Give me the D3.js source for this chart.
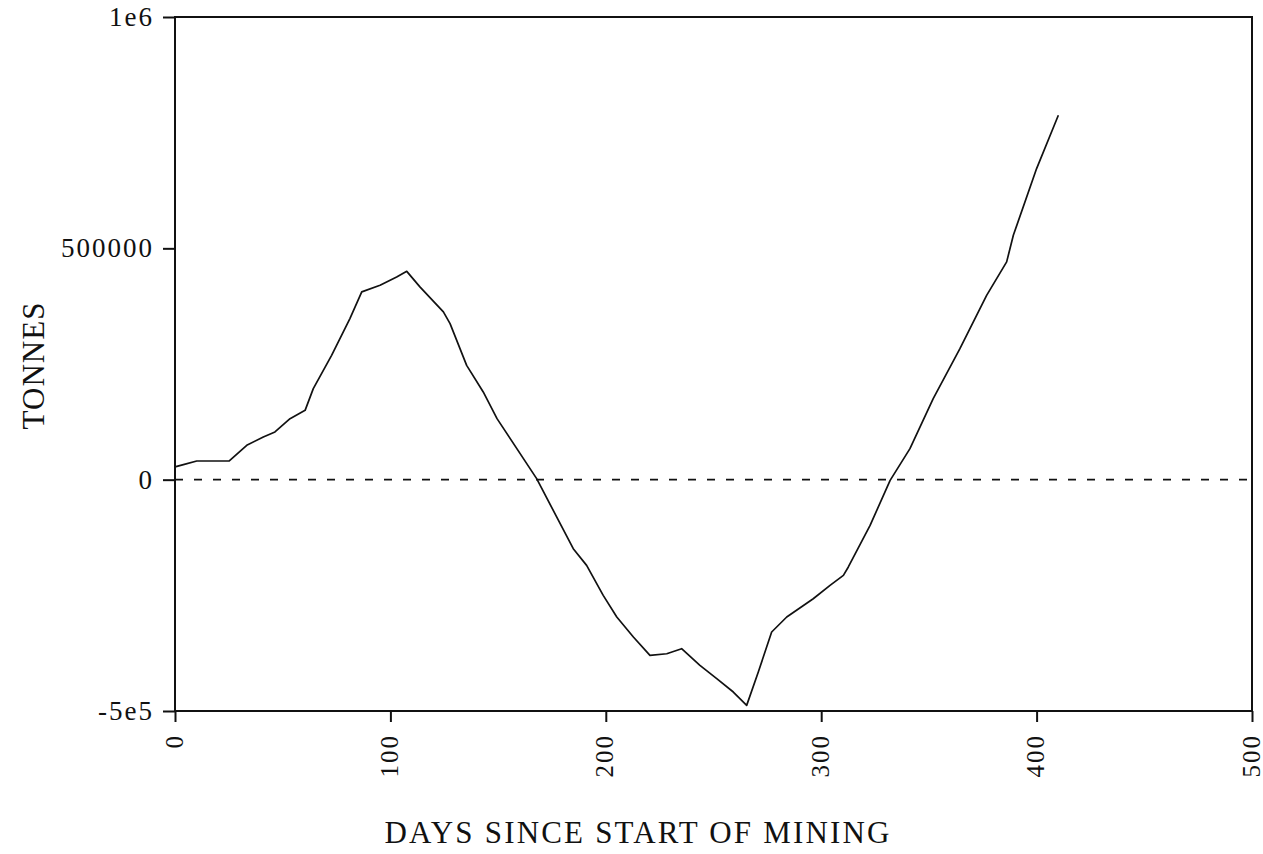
<!DOCTYPE html>
<html>
<head>
<meta charset="utf-8">
<script src="https://cdn.jsdelivr.net/npm/d3@7"></script>
<style>
  body { margin: 0; background: #fff; }
  svg { display: block; }
</style>
</head>
<body>
<script>
let width = 1263;
let height = 854;

let margin = { top: 17, right: 10, bottom: 143, left: 175 };

// days since start of mining, and cumulative tonnes
let days = [0, 3.9, 10.1, 25.2, 33.3, 41.0, 46.4, 53.4, 60.4, 64.2, 72.7, 81.2, 86.7, 95.2,
  102.9, 107.6, 113.7, 124.6, 127.7, 135.4, 143.1, 149.5, 167.9, 184.9, 191.1, 198.8,
  205.1, 212.8, 220.5, 228.3, 235.2, 243.7, 251.5, 259.2, 265.4, 270.8, 277.0, 284.0,
  296.3, 304.1, 310.3, 312.6, 322.7, 332.0, 341.2, 352.0, 364.4, 376.8, 386.1, 389.2,
  400.0, 410.1];
let tonnes = [27500, 32400, 40400, 40400, 74200, 92300, 103100, 131900, 149800, 196800,
  268700, 348100, 405800, 420100, 438200, 450300, 416600, 362600, 337300, 247100,
  189600, 131900, 2200, -149200, -185300, -250100, -296800, -340100, -379900, -376200,
  -365400, -401500, -430200, -459000, -487900, -415700, -329300, -296800, -257300,
  -228500, -206900, -188700, -98800, -1500, 67000, 175100, 283200, 398400, 470700,
  528200, 672400, 787600];

let xTicks = [0, 100, 200, 300, 400, 500];
let yTicks = [-500000, 0, 500000, 1000000];
let yTickLabels = ['-5e5', '0', '500000', '1e6'];

let xTitle = 'DAYS SINCE START OF MINING';
let yTitle = 'TONNES';

let svg = d3.select('body').append('svg')
  .attr('width', width)
  .attr('height', height);

let x = d3.scaleLinear()
  .domain([0, 500])
  .range([margin.left, width - margin.right - 1]);

let y = d3.scaleLinear()
  .domain([-500000, 1000000])
  .range([height - margin.bottom, margin.top]);

let font = '"Liberation Serif", "DejaVu Serif", serif';

// frame
svg.append('rect')
  .attr('x', x(0))
  .attr('y', y(1000000))
  .attr('width', x(500) - x(0))
  .attr('height', y(-500000) - y(1000000))
  .attr('fill', 'none')
  .attr('stroke', '#111')
  .attr('stroke-width', 2);

// axes
let xAxis = svg.append('g')
  .attr('transform', `translate(0,${y(-500000)})`)
  .call(d3.axisBottom(x).tickValues(xTicks).tickSize(11).tickFormat(d3.format('d')));

xAxis.select('.domain').remove();
xAxis.selectAll('line').attr('stroke', '#111').attr('stroke-width', 2);
xAxis.selectAll('text')
  .attr('font-family', font)
  .attr('font-size', 25)
  .attr('letter-spacing', 2)
  .attr('fill', '#111')
  .attr('text-anchor', 'end')
  .attr('dy', '0.28em')
  .attr('transform', 'translate(0,23) rotate(-90)')
  .attr('x', 0)
  .attr('y', 0);

let yAxis = svg.append('g')
  .attr('transform', `translate(${x(0)},0)`)
  .call(d3.axisLeft(y).tickValues(yTicks).tickSize(12).tickPadding(9)
    .tickFormat((d, i) => yTickLabels[i]));

yAxis.select('.domain').remove();
yAxis.selectAll('line').attr('stroke', '#111').attr('stroke-width', 2);
yAxis.selectAll('text')
  .attr('font-family', font)
  .attr('font-size', 27)
  .attr('letter-spacing', 2)
  .attr('fill', '#111');

// zero reference line
svg.append('line')
  .attr('x1', x(0))
  .attr('x2', x(500))
  .attr('y1', y(0))
  .attr('y2', y(0))
  .attr('stroke', '#111')
  .attr('stroke-width', 1.8)
  .attr('stroke-dasharray', '8,11');

// data line
let points = days.map((d, i) => [d, tonnes[i]]);

let line = d3.line()
  .x((d) => x(d[0]))
  .y((d) => y(d[1]));

svg.append('path')
  .datum(points)
  .attr('d', line)
  .attr('fill', 'none')
  .attr('stroke', '#111')
  .attr('stroke-width', 1.7)
  .attr('stroke-linejoin', 'round');

// axis titles
svg.append('text')
  .attr('x', 637)
  .attr('y', 843)
  .attr('text-anchor', 'middle')
  .attr('font-family', font)
  .attr('font-size', 31)
  .attr('textLength', 505)
  .attr('lengthAdjust', 'spacing')
  .attr('fill', '#111')
  .text(xTitle);

svg.append('text')
  .attr('transform', 'translate(44,366) rotate(-90)')
  .attr('text-anchor', 'middle')
  .attr('font-family', font)
  .attr('font-size', 31)
  .attr('textLength', 127)
  .attr('lengthAdjust', 'spacing')
  .attr('fill', '#111')
  .text(yTitle);
</script>
</body>
</html>
